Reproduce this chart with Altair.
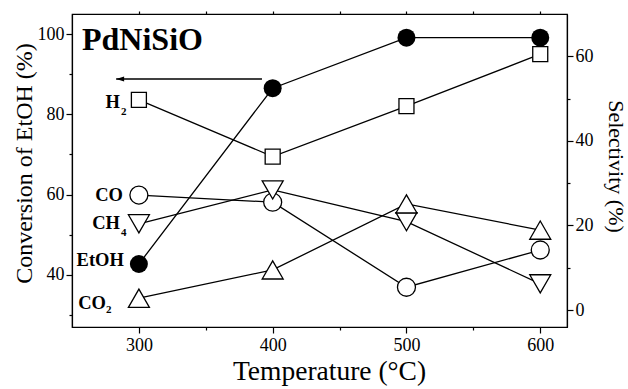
import altair as alt
import pandas as pd

# ---------------- data ----------------
temps = [300, 400, 500, 600]
etoh_conv = [42.7, 86.5, 99.1, 99.1]          # left axis
h2_sel = [49.7, 36.3, 48.2, 60.5]              # right axis
co_sel = [27.2, 25.5, 5.4, 14.2]
ch4_sel = [20.4, 28.4, 20.9, 6.2]
co2_sel = [2.8, 9.5, 25.1, 18.9]

series_names = ["H2", "CO", "CH4", "CO2"]
label_main = ["H", "CO", "CH", "CO"]
label_sub = ["2", "", "4", "2"]
etoh_label = "EtOH"

x_major = [300, 400, 500, 600]
x_minor = [350, 450, 550]
x_top = [300, 350, 400, 450, 500, 550, 600]
left_major = [40, 60, 80, 100]
left_minor = [30, 50, 70, 90]
right_major = [0, 20, 40, 60]
right_minor = [10, 30, 50]

arrow_x = [283, 392]
arrow_y = [88.8]

panel_title = "PdNiSiO"

# ---------------- styles ----------------
FONT = "Liberation Serif"
LW = 1.3
styles = {
    "H2":  dict(shape="square", size=225, dx=-19, dy=2, sdx=-18, sdy=12),
    "CO":  dict(shape="circle", size=324, dx=-16, dy=0, sdx=-16, sdy=8),
    "CH4": dict(shape="triangle-down", size=441, dx=-19, dy=-1, sdx=-18, sdy=9),
    "CO2": dict(shape="triangle-up", size=441, dx=-33, dy=5, sdx=-33, sdy=12),
}

xscale = alt.Scale(domain=[250, 620], nice=False, zero=False)
lscale = alt.Scale(domain=[27, 105], nice=False, zero=False)
rscale = alt.Scale(domain=[-4, 70], nice=False, zero=False)

etoh_df = pd.DataFrame({"T": temps, "v": etoh_conv})
sel_values = [h2_sel, co_sel, ch4_sel, co2_sel]
rows = []
for name, vals, m, s in zip(series_names, sel_values, label_main, label_sub):
    for t, v in zip(temps, vals):
        rows.append({"series": name, "T": t, "v": v, "main": m, "sub": s})
sel_df = pd.DataFrame(rows)

# ---------------- axes ----------------
common = dict(labelFont=FONT, titleFont=FONT, titleFontWeight="normal",
              labelColor="black", titleColor="black", tickColor="black",
              domainColor="black", tickWidth=1.2, domainWidth=1.2, grid=False)
ax_bottom = alt.Axis(orient="bottom", values=x_major, tickSize=6, labelFontSize=18,
                     labelPadding=3, title="Temperature (°C)", titleFontSize=27.5,
                     titlePadding=3, titleX=257, format="d", **common)
ax_bottom_minor = alt.Axis(orient="bottom", values=x_minor, tickSize=3, labels=False,
                           domain=False, title=None, **common)
ax_top = alt.Axis(orient="top", values=x_top, tickSize=3, labels=False,
                  domain=False, title=None, **common)
ax_left = alt.Axis(orient="left", values=left_major, tickSize=6, labelFontSize=18,
                   labelPadding=2, title="Conversion of EtOH (%)", titleFontSize=24,
                   titlePadding=1, titleY=149, format="d", **common)
ax_left_minor = alt.Axis(orient="left", values=left_minor, tickSize=3, labels=False,
                         domain=False, title=None, **common)
ax_right = alt.Axis(orient="right", values=right_major, tickSize=6, labelFontSize=18,
                    labelPadding=2, title="Selectivity (%)", titleFontSize=22,
                    titlePadding=10, titleY=152, format="d", **common)
ax_right_minor = alt.Axis(orient="right", values=right_minor, tickSize=3, labels=False,
                          domain=False, title=None, **common)

# ---------------- left group (EtOH conversion) ----------------
eb = alt.Chart(etoh_df)
etoh_line = eb.mark_line(color="black", strokeWidth=LW).encode(
    x=alt.X("T:Q", scale=xscale, axis=ax_bottom),
    y=alt.Y("v:Q", scale=lscale, axis=ax_left),
)
etoh_pts = eb.mark_point(shape="circle", size=324, filled=True, color="black", opacity=1).encode(
    x=alt.X("T:Q", scale=xscale, axis=None),
    y=alt.Y("v:Q", scale=lscale, axis=None),
)
minor_l = eb.mark_point(opacity=0).encode(
    x=alt.X("T:Q", scale=xscale, axis=ax_bottom_minor),
    y=alt.Y("v:Q", scale=lscale, axis=ax_left_minor),
)
top_l = eb.mark_point(opacity=0).encode(
    x=alt.X("T:Q", scale=xscale, axis=ax_top),
    y=alt.Y("v:Q", scale=lscale, axis=None),
)
etoh_lab = eb.transform_filter(alt.datum.T == temps[0]).mark_text(
    align="right", baseline="middle", dx=-15, dy=-3.5, font=FONT, fontWeight="bold",
    fontSize=18.5, color="black", text=etoh_label
).encode(
    x=alt.X("T:Q", scale=xscale, axis=None),
    y=alt.Y("v:Q", scale=lscale, axis=None),
)

arrow_df = pd.DataFrame({"x": [arrow_x[0]], "x2": [arrow_x[1]], "y": arrow_y})
arrow_line = alt.Chart(arrow_df).mark_rule(color="black", strokeWidth=LW).encode(
    x=alt.X("x:Q", scale=xscale, axis=None),
    x2="x2:Q",
    y=alt.Y("y:Q", scale=lscale, axis=None),
)
arrow_head = alt.Chart(arrow_df).mark_point(
    shape="M-1,0L1,-0.6L1,0.6Z", size=64, filled=True, color="black", opacity=1, xOffset=4
).encode(
    x=alt.X("x:Q", scale=xscale, axis=None),
    y=alt.Y("y:Q", scale=lscale, axis=None),
)

title_df = pd.DataFrame({"t": [panel_title]})
title_txt = alt.Chart(title_df).mark_text(
    align="left", baseline="alphabetic", font=FONT, fontWeight="bold", fontSize=32,
    color="black"
).encode(x=alt.value(10), y=alt.value(36), text="t:N")

left_group = alt.layer(
    etoh_line, minor_l, top_l, arrow_line, arrow_head, etoh_pts, etoh_lab, title_txt
).resolve_axis(x="independent", y="independent")

# ---------------- right group (selectivities) ----------------
sb = alt.Chart(sel_df)
sel_lines = sb.mark_line(color="black", strokeWidth=LW).encode(
    x=alt.X("T:Q", scale=xscale, axis=None),
    y=alt.Y("v:Q", scale=rscale, axis=ax_right),
    detail="series:N",
)
minor_r = sb.mark_point(opacity=0).encode(
    x=alt.X("T:Q", scale=xscale, axis=None),
    y=alt.Y("v:Q", scale=rscale, axis=ax_right_minor),
)
right_layers = [sel_lines, minor_r]
for name in series_names:
    st = styles[name]
    sub = sb.transform_filter(alt.datum.series == name)
    right_layers.append(
        sub.mark_point(shape=st["shape"], size=st["size"], filled=True, fill="white",
                       stroke="black", strokeWidth=LW, opacity=1).encode(
            x=alt.X("T:Q", scale=xscale, axis=None),
            y=alt.Y("v:Q", scale=rscale, axis=None),
        )
    )
for name in series_names:
    st = styles[name]
    first = sb.transform_filter((alt.datum.series == name) & (alt.datum.T == temps[0]))
    right_layers.append(
        first.mark_text(align="right", baseline="middle", dx=st["dx"], dy=st["dy"],
                        font=FONT, fontWeight="bold", fontSize=18.5, color="black").encode(
            x=alt.X("T:Q", scale=xscale, axis=None),
            y=alt.Y("v:Q", scale=rscale, axis=None),
            text="main:N",
        )
    )
    right_layers.append(
        first.mark_text(align="left", baseline="middle", dx=st["sdx"], dy=st["sdy"],
                        font=FONT, fontWeight="bold", fontSize=11, color="black").encode(
            x=alt.X("T:Q", scale=xscale, axis=None),
            y=alt.Y("v:Q", scale=rscale, axis=None),
            text="sub:N",
        )
    )

right_group = alt.layer(*right_layers).resolve_axis(y="independent")

chart = alt.layer(left_group, right_group).resolve_scale(y="independent").properties(
    width=495, height=313,
    padding={"left": 72, "top": 14, "right": 61, "bottom": 62},
    autosize=alt.AutoSizeParams(type="none"),
    background="white",
).configure_view(stroke="black", strokeWidth=1.2).configure_axis(
    grid=False, domainColor="black", domainWidth=1.2, tickColor="black", tickWidth=1.2,
    labelColor="black", titleColor="black", labelFont=FONT, titleFont=FONT,
    titleFontWeight="normal",
)

chart.save("out.html", embed_options={"renderer": "svg", "actions": False})
